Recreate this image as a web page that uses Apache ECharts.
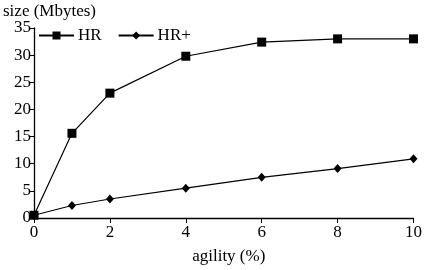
<!DOCTYPE html>
<html>
<head>
<meta charset="utf-8">
<script src="https://cdn.jsdelivr.net/npm/echarts@6/dist/echarts.min.js"></script>
<style>
  html, body { margin: 0; padding: 0; background: #fff; }
  #main { width: 425px; height: 270px; }
</style>
</head>
<body>
<div id="main"></div>
<script>
// agility values on the x axis
var agility = [0, 1, 2, 4, 6, 8, 10];
// size in Mbytes
var hrSize = [0.5, 15.6, 23.0, 29.8, 32.4, 33.0, 33.0];
var hrPlusSize = [0.5, 2.3, 3.5, 5.5, 7.5, 9.1, 10.9];

function pairs(xs, ys) {
  return xs.map(function (x, i) { return [x, ys[i]]; });
}

var font = 'Liberation Serif';
var fs = 17;
var chart = echarts.init(document.getElementById('main'));
chart.setOption({
  animation: false,
  textStyle: { fontFamily: font, color: '#000' },
  grid: { left: 31, right: 8, top: 28, bottom: 47 },
  legend: {
    left: 33, top: 22,
    itemWidth: 35, itemHeight: 10, itemGap: 16,
    textStyle: { fontFamily: font, fontSize: fs, color: '#000', padding: [0, 0, 0, -1] },
    data: ['HR', 'HR+']
  },
  xAxis: {
    type: 'value', min: 0, max: 10, interval: 2,
    name: 'agility (%)', nameLocation: 'middle', nameGap: 30,
    nameTextStyle: { fontFamily: font, fontSize: fs, color: '#000', padding: [0, 0, 0, 10] },
    axisLine: { lineStyle: { color: '#000', width: 1.3 } },
    axisTick: { show: true, length: 5, lineStyle: { color: '#000' } },
    axisLabel: { fontFamily: font, fontSize: fs, color: '#000', margin: 6 },
    splitLine: { show: false }
  },
  yAxis: {
    type: 'value', min: 0, max: 35, interval: 5,
    name: 'size (Mbytes)', nameLocation: 'end', nameGap: 8,
    nameTextStyle: { fontFamily: font, fontSize: fs, color: '#000', align: 'left', padding: [0, 0, 0, -31] },
    axisLine: { show: true, lineStyle: { color: '#000', width: 1.3 } },
    axisTick: { show: true, length: 4, lineStyle: { color: '#000' } },
    axisLabel: { fontFamily: font, fontSize: fs, color: '#000', margin: 3 },
    splitLine: { show: false }
  },
  series: [
    {
      name: 'HR', type: 'line', data: pairs(agility, hrSize),
      symbol: 'rect', symbolSize: 9,
      lineStyle: { color: '#000', width: 1.2 },
      itemStyle: { color: '#000' }
    },
    {
      name: 'HR+', type: 'line', data: pairs(agility, hrPlusSize),
      symbol: 'diamond', symbolSize: [8, 9],
      lineStyle: { color: '#000', width: 1.2 },
      itemStyle: { color: '#000' }
    }
  ]
});
</script>
</body>
</html>
